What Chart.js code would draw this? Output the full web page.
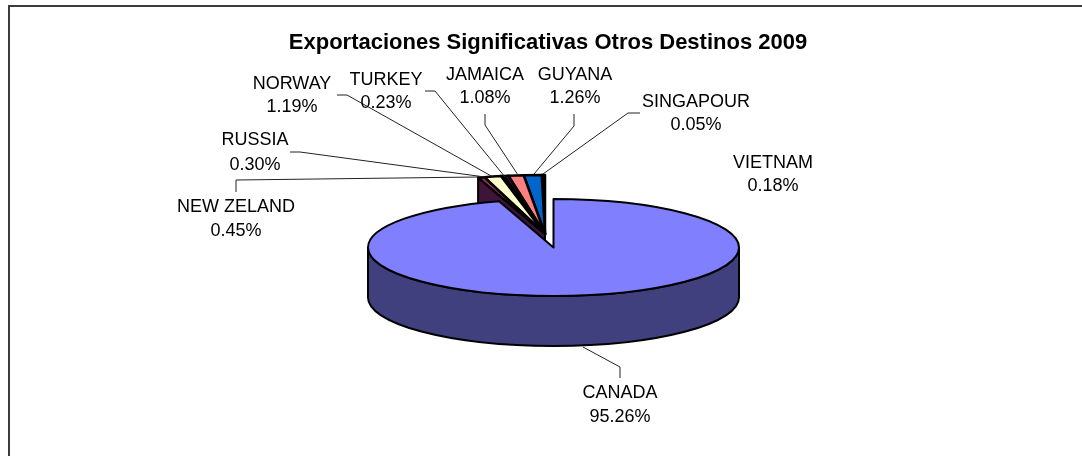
<!DOCTYPE html>
<html>
<head>
<meta charset="utf-8">
<style>html,body{margin:0;padding:0;background:#fff}#w{width:1082px;height:456px;position:relative}</style>
<script src="https://cdn.jsdelivr.net/npm/chart.js@4"></script>
</head>
<body>
<div id="w"><canvas id="c" width="1082" height="456"></canvas></div>
<script>
const categories = ['CANADA','NEW ZELAND','NORWAY','TURKEY','RUSSIA','JAMAICA','GUYANA','SINGAPOUR','VIETNAM'];
const shares = [95.26,0.45,1.19,0.23,0.30,1.08,1.26,0.05,0.18];
const sliceColours = ['#8080FF','#993366','#FFFFCC','#CCFFFF','#660066','#FF8080','#0066CC','#CCCCFF','#000080'];
const wallColours = ['#40407F','#3F1438','#3a3a20','#204040','#300030','#402020','#003060','#303040','#000040'];
const chartTitle = 'Exportaciones Significativas Otros Destinos 2009';

// Page layout, kept apart from the data
const mainDisc = {cx:553.5, cy:247.5, rx:185.5, ry:48.5, depth:50, line:2};
const smallDisc = {cx:545, cy:234, rx:228, ry:59, depth:50, line:2.5};
const labelPlace = {
  'CANADA':[620,393,417],'NEW ZELAND':[236,207,231],'NORWAY':[292,84,107],'RUSSIA':[255,140,165],
  'TURKEY':[386,80,103],'JAMAICA':[485,75,98],'GUYANA':[575,75,98],'SINGAPOUR':[696,102,125],'VIETNAM':[773,163,186]
};
const leaders = [
  [[620,378],[620,367],[583,347]],
  [[236,192],[236,180],[478,177]],
  [[290,152],[300,152],[485,177]],
  [[337,95],[347,95],[493,177]],
  [[425,91],[435,91],[505,177]],
  [[485,114],[485,125],[518,175]],
  [[574,114],[574,126],[534,174]],
  [[640,113],[628,113],[543,174]]
];

function frameOf(arc, disc){
  const R = arc.outerRadius;
  return {a:disc.rx/R, d:disc.ry/R, e:disc.cx-arc.x*disc.rx/R, f:disc.cy-arc.y*disc.ry/R};
}
function slicePath(ctx, arc, disc){
  const t = frameOf(arc, disc);
  ctx.save();
  ctx.transform(t.a,0,0,t.d,t.e,t.f);
  ctx.beginPath();
  ctx.moveTo(arc.x,arc.y);
  ctx.arc(arc.x,arc.y,arc.outerRadius,arc.startAngle,arc.endAngle);
  ctx.closePath();
  ctx.restore();
}
function drawSlice(ctx, arc, disc){
  const t = frameOf(arc, disc);
  ctx.save();
  ctx.transform(t.a,0,0,t.d,t.e,t.f);
  arc.draw(ctx);
  ctx.restore();
  slicePath(ctx, arc, disc);
  ctx.strokeStyle='#000'; ctx.lineWidth=disc.line; ctx.lineJoin='round'; ctx.stroke();
}
function drawStartWall(ctx, arc, disc, colour){
  const ox = disc.cx + disc.rx*Math.cos(arc.startAngle);
  const oy = disc.cy + disc.ry*Math.sin(arc.startAngle);
  ctx.beginPath();
  ctx.moveTo(ox,oy);
  ctx.lineTo(ox,oy+disc.depth);
  ctx.lineTo(disc.cx,disc.cy+disc.depth);
  ctx.lineTo(disc.cx,disc.cy);
  ctx.closePath();
  ctx.fillStyle=colour; ctx.fill();
  ctx.strokeStyle='#000'; ctx.lineWidth=2; ctx.stroke();
}
function drawFrontWall(ctx, disc, colour){
  const {cx,cy,rx,ry,depth} = disc;
  ctx.beginPath();
  ctx.ellipse(cx,cy+depth,rx,ry,0,0,Math.PI);
  ctx.lineTo(cx-rx,cy);
  ctx.ellipse(cx,cy,rx,ry,0,Math.PI,0,true);
  ctx.closePath();
  ctx.fillStyle=colour; ctx.fill();
  ctx.strokeStyle='#000'; ctx.lineWidth=2; ctx.stroke();
}

const tiltedPie = {
  id:'tiltedPie',
  beforeDatasetsDraw(chart){
    const ctx = chart.ctx, arcs = chart.getDatasetMeta(0).data;
    ctx.save();
    ctx.fillStyle='#3c3c3c';
    ctx.fillRect(8,5,1074,2);
    ctx.fillRect(8,5,2,451);
    for(let i=arcs.length-1;i>=1;i--){
      drawStartWall(ctx, arcs[i], smallDisc, wallColours[i]);
      drawSlice(ctx, arcs[i], smallDisc);
    }
    drawFrontWall(ctx, mainDisc, wallColours[0]);
    drawSlice(ctx, arcs[0], mainDisc);
    ctx.restore();
    return false;
  },
  afterDraw(chart){
    const ctx = chart.ctx;
    ctx.save();
    ctx.strokeStyle='#222'; ctx.lineWidth=1;
    leaders.forEach(l=>{
      ctx.beginPath();
      l.forEach((p,i)=> i?ctx.lineTo(p[0],p[1]):ctx.moveTo(p[0],p[1]));
      ctx.stroke();
    });
    ctx.fillStyle='#000';
    ctx.font='18px "Liberation Sans"';
    ctx.textAlign='center'; ctx.textBaseline='middle';
    categories.forEach((name,i)=>{
      const p = labelPlace[name];
      ctx.fillText(name,p[0],p[1]);
      ctx.fillText(shares[i].toFixed(2)+'%',p[0],p[2]);
    });
    ctx.restore();
  }
};

new Chart(document.getElementById('c'),{
  type:'pie',
  data:{labels:categories,datasets:[{data:shares,backgroundColor:sliceColours,borderWidth:0}]},
  options:{
    responsive:false,animation:false,
    layout:{padding:{top:0,left:24,right:10,bottom:10}},
    plugins:{
      legend:{display:false},tooltip:{enabled:false},
      title:{display:true,fullSize:false,text:chartTitle,color:'#000',font:{family:'Liberation Sans',size:22,weight:'bold'},padding:{top:30,bottom:10}}
    }
  },
  plugins:[tiltedPie]
});
</script>
</body>
</html>
